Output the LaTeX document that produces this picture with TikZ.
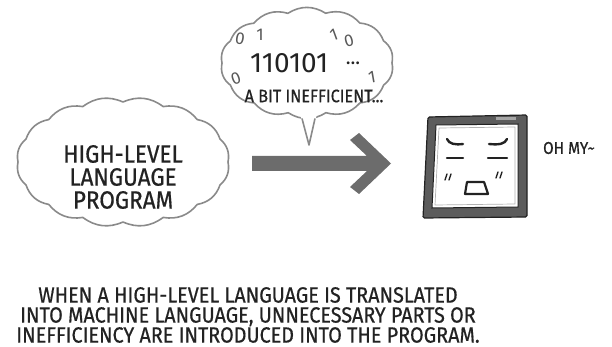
\documentclass[tikz,border=0pt]{standalone}
\usepackage{fontspec}
\setmainfont{Fira Sans}
\newfontfamily\comic[FakeStretch=0.9, FakeBold=0.6]{Fira Sans}
\usetikzlibrary{positioning}
\definecolor{inkgray}{HTML}{222222}
\definecolor{puffgray}{HTML}{8A8A8A}
\definecolor{arrowgray}{HTML}{6C6C6C}
\definecolor{framegray}{HTML}{5C5C5C}

\begin{document}
\begin{tikzpicture}[x=1pt, y=-1pt,
    puff/.style={draw=puffgray, line width=1.6pt, fill=white, line join=round},
    caps/.style={text=inkgray, align=center, inner sep=0pt},
    bit/.style={font=\fontsize{17}{17}\selectfont, text=inkgray!75, inner sep=0pt},
    face/.style={draw=inkgray, line width=2.4pt, line cap=round},
  ]
  \useasboundingbox (0,0) rectangle (612,347);

  % ----- cloud holding the source program -----
  \begin{scope}[shift={(123,162)}]
    \draw[puff] (0:105 and 60) \foreach \t in {22.5,45,...,360}{ to[bend left=30] (\t:105 and 60) } -- cycle;
  \end{scope}
  \node[caps, font=\comic\fontsize{25}{23}\selectfont] (hll) at (123,177) {HIGH-LEVEL\\LANGUAGE\\PROGRAM};

  % ----- thought bubble over the arrow -----
  \begin{scope}[shift={(307,63)}]
    \draw[puff] (0:85 and 51) \foreach \t in {25.7,51.4,...,360}{ to[bend left=32] (\t:85 and 51) } -- cycle;
  \end{scope}
  \coordinate (tailL) at (302,118.5);
  \coordinate (tailR) at (315,118.5);
  \coordinate (tailtip) at (309,145);
  \fill[white] (300,114) -- (317,114) -- (tailtip) -- cycle;
  \draw[puffgray, line width=1.6pt, line join=round] (tailL) -- (tailtip) -- (tailR);

  \node[font=\fontsize{28}{28}\selectfont, text=inkgray, inner sep=0pt, anchor=base west] (bits) at (250,73) {110101};
  \node[font=\fontsize{20}{20}\selectfont, text=inkgray, inner sep=0pt] (dots) at (353,66) {···};
  \node[caps, font=\comic\fontsize{18}{18}\selectfont] (ineff) at (314,96) {A BIT INEFFICIENT...};
  \node[bit, rotate=-10] (b0) at (240,39) {0};
  \node[bit] (b1) at (260,35) {1};
  \node[bit, rotate=20] (b2) at (334,35) {1};
  \node[bit, rotate=15] (b3) at (349,41) {0};
  \node[bit, rotate=20] (b4) at (236,79) {0};
  \node[bit, rotate=10] (b5) at (372,77) {1};

  % ----- block arrow -----
  \fill[arrowgray] (252,156) -- (367,156) -- (350,140) -- (359,133) -- (391,163.5)
    -- (359,194) -- (350,187) -- (367,171) -- (252,171) -- cycle;

  % ----- machine (monitor with a tired face) -----
  \filldraw[draw=inkgray, fill=framegray, line width=1.2pt, rounded corners=1.5pt]
    (428,117) -- (527,115) -- (527,217) -- (423,218) -- cycle;
  \fill[gray!70] (496,117.5) rectangle (516,120.5);
  \filldraw[draw=inkgray, fill=white, line width=1pt] (436,125) -- (518,124) -- (518,207) -- (432,208) -- cycle;
  \draw[gray!60, line width=0.7pt] (439,128) -- (515,127) -- (515,204) -- (435,205) -- cycle;

  \draw[face] (447,139) .. controls (449,144) and (455,145) .. (463,144);
  \draw[face] (507,139) .. controls (505,144) and (499,145) .. (489,144);
  \draw[face] (447,158) -- (463,158);
  \draw[face] (488,158) -- (507,158);
  \draw[face, line width=1.4pt] (445,180) -- (447,174) (449,180) -- (451,174);
  \draw[face, line width=1.4pt] (496,178) -- (498,172) (500,178) -- (502,172);
  \draw[face, line width=2.2pt, line join=round] (467,182) -- (484,182) -- (488,194) -- (465,194) -- cycle;

  \node[caps, font=\comic\fontsize{17}{17}\selectfont] (ohmy) at (569,148) {OH MY\textasciitilde};

  % ----- caption -----
  \node[caps, font=\comic\fontsize{22}{20}\selectfont] (caption) at (248,315)
    {WHEN A HIGH-LEVEL LANGUAGE IS TRANSLATED\\INTO MACHINE LANGUAGE, UNNECESSARY PARTS OR\\INEFFICIENCY ARE INTRODUCED INTO THE PROGRAM.};
\end{tikzpicture}
\end{document}
